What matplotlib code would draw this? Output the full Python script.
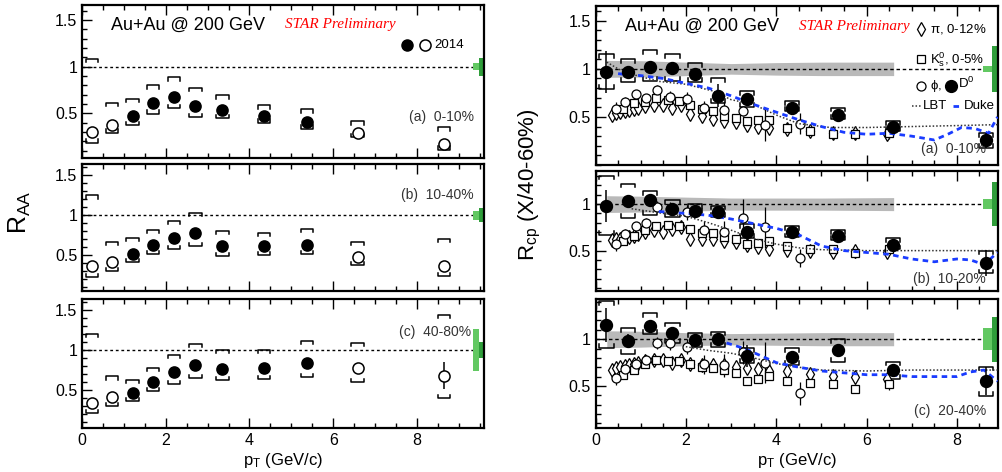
import matplotlib
matplotlib.use("Agg")
import matplotlib.pyplot as plt
from matplotlib.ticker import MultipleLocator, FixedLocator, FuncFormatter

plt.rcParams["font.family"] = ["Liberation Sans", "DejaVu Sans"]
plt.rcParams["mathtext.fontset"] = "custom"
plt.rcParams["mathtext.rm"] = "Liberation Sans"
plt.rcParams["mathtext.it"] = "Liberation Sans"

W, H = 1003, 472

# ---- D0 data ----
d0_pt = [0.24, 0.72, 1.21, 1.70, 2.20, 2.71, 3.35, 4.35, 5.37, 6.58, 8.64]
raa_open = [True, True, False, False, False, False, False, False, False, True, True]

raa_a = [0.30, 0.38, 0.47, 0.61, 0.68, 0.58, 0.54, 0.47, 0.41, 0.29, 0.17]
raa_a_hi = [1.086, 0.615, 0.658, 0.803, 0.889, 0.775, 0.696, 0.586, 0.543, 0.417, 0.357]
raa_a_lo = [0.186, 0.293, 0.371, 0.497, 0.554, 0.457, 0.446, 0.400, 0.336, 0.243, 0.107]
raa_a_err = [0.04, 0.02, 0.02, 0.02, 0.02, 0.02, 0.02, 0.02, 0.02, 0.02, 0.03]

raa_b = [0.37, 0.42, 0.52, 0.63, 0.71, 0.78, 0.61, 0.61, 0.63, 0.48, 0.36]
raa_b_hi = [1.25, 0.666, 0.716, 0.821, 0.925, 1.034, 0.80, 0.784, 0.825, 0.666, 0.70]
raa_b_lo = [0.229, 0.30, 0.416, 0.509, 0.571, 0.613, 0.488, 0.50, 0.509, 0.375, 0.238]
raa_b_err = [0.03, 0.02, 0.02, 0.02, 0.02, 0.02, 0.02, 0.02, 0.02, 0.03, 0.04]

raa_c = [0.34, 0.41, 0.46, 0.60, 0.72, 0.81, 0.76, 0.78, 0.84, 0.78, 0.68]
raa_c_hi = [1.20, 0.67, 0.625, 0.78, 0.94, 1.08, 1.0, 1.0, 1.12, 1.09, 1.44]
raa_c_lo = [0.21, 0.30, 0.36, 0.49, 0.575, 0.645, 0.625, 0.64, 0.66, 0.60, 0.40]
raa_c_err = [0.02, 0.02, 0.02, 0.02, 0.02, 0.02, 0.02, 0.02, 0.02, 0.03, 0.17]

rcp_a = [0.964, 0.964, 1.024, 1.01, 0.948, 0.72, 0.685, 0.597, 0.52, 0.395, 0.255]
rcp_a_hi = [1.157, 1.105, 1.192, 1.157, 1.063, 0.906, 0.766, 0.668, 0.597, 0.457, 0.335]
rcp_a_lo = [0.79, 0.867, 0.877, 0.877, 0.86, 0.65, 0.604, 0.562, 0.475, 0.353, 0.177]
rcp_a_err = [0.22, 0.06, 0.03, 0.03, 0.03, 0.12, 0.05, 0.04, 0.03, 0.06, 0.08]

rcp_b = [0.982, 1.028, 1.046, 0.949, 0.931, 0.91, 0.705, 0.698, 0.658, 0.558, 0.364]
rcp_b_hi = [1.305, 1.219, 1.136, 1.046, 1.003, 0.982, 0.784, 0.766, 0.723, 0.634, 0.50]
rcp_b_lo = [0.669, 0.849, 0.885, 0.866, 0.903, 0.86, 0.634, 0.644, 0.615, 0.515, 0.256]
rcp_b_err = [0.17, 0.07, 0.03, 0.05, 0.04, 0.05, 0.06, 0.04, 0.04, 0.05, 0.14]

rcp_c = [1.153, 0.982, 1.142, 1.064, 0.993, 1.003, 0.821, 0.807, 0.885, 0.671, 0.554]
rcp_c_hi = [1.41, 1.118, 1.278, 1.178, 1.064, 1.081, 0.904, 0.904, 1.0, 0.76, 0.707]
rcp_c_lo = [0.904, 0.84, 1.057, 0.957, 0.921, 0.921, 0.743, 0.725, 0.76, 0.572, 0.393]
rcp_c_err = [0.18, 0.07, 0.04, 0.04, 0.04, 0.04, 0.12, 0.04, 0.05, 0.06, 0.15]

# ---- light hadrons ----
pi_pt = [0.36, 0.45, 0.55, 0.65, 0.75, 0.85, 0.95, 1.1, 1.3, 1.5, 1.7, 1.9, 2.1,
         2.35, 2.6, 2.85, 3.1, 3.35, 3.6, 3.85, 4.25, 4.75, 5.25, 5.75, 6.45]
pi_a = [0.52, 0.54, 0.55, 0.56, 0.57, 0.58, 0.59, 0.61, 0.62, 0.62, 0.59, 0.62, 0.53,
        0.51, 0.48, 0.46, 0.45, 0.42, 0.40, 0.38, 0.37, 0.35, 0.33, 0.33, 0.32]
pi_b = [0.61, 0.62, 0.63, 0.64, 0.65, 0.66, 0.68, 0.70, 0.72, 0.70, 0.73, 0.75, 0.63,
        0.62, 0.62, 0.60, 0.59, 0.56, 0.54, 0.52, 0.51, 0.50, 0.48, 0.50, 0.48]
pi_c = [0.67, 0.69, 0.70, 0.71, 0.72, 0.73, 0.75, 0.77, 0.78, 0.78, 0.75, 0.78, 0.74,
        0.72, 0.72, 0.72, 0.70, 0.69, 0.68, 0.66, 0.66, 0.63, 0.61, 0.60, 0.57]
pi_err = [0.03, 0.02, 0.02, 0.02, 0.02, 0.02, 0.02, 0.02, 0.02, 0.02, 0.02, 0.02, 0.02,
          0.02, 0.02, 0.02, 0.02, 0.02, 0.02, 0.03, 0.03, 0.03, 0.04, 0.04, 0.05]

k_pt = [0.6, 0.85, 1.1, 1.35, 1.6, 1.85, 2.1, 2.35, 2.6, 2.85, 3.1, 3.35, 3.6, 3.85,
        4.25, 4.75, 5.25, 5.75, 6.5]
k_a = [0.58, 0.65, 0.66, 0.70, 0.68, 0.67, 0.62, 0.58, 0.56, 0.51, 0.49, 0.46, 0.47,
       0.47, 0.39, 0.35, 0.32, 0.32, 0.33]
k_b = [0.60, 0.66, 0.72, 0.76, 0.78, 0.76, 0.73, 0.69, 0.69, 0.65, 0.62, 0.57, 0.58,
       0.60, 0.55, 0.52, 0.52, 0.47, 0.52]
k_c = [0.62, 0.67, 0.74, 0.78, 0.77, 0.77, 0.74, 0.70, 0.69, 0.67, 0.64, 0.55, 0.57,
       0.61, 0.55, 0.53, 0.52, 0.47, 0.52]
k_err = [0.02, 0.02, 0.02, 0.02, 0.02, 0.02, 0.02, 0.02, 0.02, 0.02, 0.02, 0.02, 0.03,
         0.03, 0.03, 0.04, 0.04, 0.05, 0.06]

phi_pt = [0.46, 0.66, 0.9, 1.12, 1.36, 1.65, 2.02, 2.4, 2.85, 3.26, 3.76, 4.52]
phi_a = [0.58, 0.66, 0.74, 0.70, 0.78, 0.71, 0.69, 0.59, 0.57, 0.56, 0.415, 0.43]
phi_b = [0.57, 0.68, 0.76, 0.80, 0.97, 0.95, 0.91, 0.72, 0.70, 0.85, 0.75, 0.42]
phi_c = [0.58, 0.68, 0.74, 0.78, 0.96, 0.96, 0.92, 0.73, 0.72, 0.86, 0.75, 0.42]
phi_a_err = [0.08, 0.05, 0.04, 0.04, 0.05, 0.06, 0.07, 0.08, 0.09, 0.05, 0.17, 0.11]
phi_b_err = [0.07, 0.05, 0.05, 0.05, 0.06, 0.07, 0.08, 0.10, 0.12, 0.20, 0.22, 0.10]
phi_c_err = [0.07, 0.05, 0.05, 0.05, 0.06, 0.08, 0.08, 0.10, 0.12, 0.12, 0.22, 0.12]

# ---- model curves ----
lbt_a_x = [0.25, 0.5, 0.75, 1.0, 1.4, 2.0, 2.6, 3.0, 3.5, 4.0, 4.5, 5.2, 6.0, 7.0, 8.0, 8.9]
lbt_a_y = [1.07, 1.0, 0.95, 0.92, 0.87, 0.84, 0.77, 0.68, 0.63, 0.52, 0.43, 0.39, 0.39, 0.40, 0.41, 0.42]
duke_a_x = [0.5, 1.0, 1.5, 2.0, 2.5, 3.0, 3.5, 4.0, 4.5, 5.0, 5.5, 6.0, 6.5, 7.0, 7.5, 7.8, 8.1, 8.4, 8.7, 8.9]
duke_a_y = [0.95, 0.93, 0.90, 0.85, 0.80, 0.72, 0.63, 0.55, 0.47, 0.40, 0.34, 0.32, 0.33, 0.30, 0.26, 0.32, 0.39, 0.38, 0.33, 0.50]
lbt_b_x = [0.8, 1.5, 2.0, 2.5, 3.0, 3.5, 4.0, 4.5, 5.0, 6.0, 7.0, 8.0, 8.9]
lbt_b_y = [0.95, 0.90, 0.87, 0.80, 0.72, 0.63, 0.57, 0.53, 0.51, 0.50, 0.50, 0.50, 0.50]
duke_b_x = [1.4, 2.0, 2.5, 3.0, 3.4, 4.0, 4.5, 5.0, 5.5, 6.0, 6.5, 7.0, 7.5, 8.0, 8.3, 8.6, 8.9]
duke_b_y = [0.92, 0.90, 0.88, 0.84, 0.80, 0.74, 0.67, 0.55, 0.50, 0.48, 0.46, 0.41, 0.38, 0.41, 0.40, 0.35, 0.48]
lbt_c_x = [2.0, 2.5, 3.0, 3.5, 4.0, 4.5, 5.0, 6.0, 7.0, 8.0, 8.9]
lbt_c_y = [0.92, 0.88, 0.85, 0.80, 0.74, 0.70, 0.67, 0.66, 0.67, 0.67, 0.67]
duke_c_x = [2.9, 3.3, 4.0, 4.5, 5.0, 5.5, 6.0, 6.5, 7.0, 7.5, 8.0, 8.3, 8.6, 8.9]
duke_c_y = [0.96, 0.90, 0.75, 0.70, 0.66, 0.64, 0.62, 0.62, 0.60, 0.60, 0.60, 0.65, 0.67, 0.55]

# ---- gray band (D0 pp reference uncertainty) ----
band_x = [0.25, 1.0, 2.0, 3.0, 4.0, 5.0, 6.6]
band_a = [0.088, 0.085, 0.07, 0.055, 0.065, 0.07, 0.07]
band_b = [0.09, 0.085, 0.075, 0.065, 0.065, 0.065, 0.07]
band_c = [0.09, 0.085, 0.07, 0.06, 0.065, 0.07, 0.07]

# ---- normalisation boxes (light, dark half-widths) ----
norm_raa = [(0.04, 0.095), (0.06, 0.09), (0.26, 0.10)]
norm_rcp = [(0.03, 0.24), (0.055, 0.235), (0.116, 0.24)]

LIGHT_G = "#62c862"
DARK_G = "#2f9e3a"
BLUE = "#1a3cff"


def add_ax(x0, y0, x1, y1):
    return fig.add_axes([x0 / W, 1 - y1 / H, (x1 - x0) / W, (y1 - y0) / H])


def style(ax, xlim, ylim, xlabels):
    ax.set_xlim(*xlim)
    ax.set_ylim(*ylim)
    ax.xaxis.set_major_locator(MultipleLocator(2))
    ax.xaxis.set_minor_locator(MultipleLocator(0.5))
    ax.yaxis.set_major_locator(FixedLocator([0.5, 1.0, 1.5]))
    ax.yaxis.set_minor_locator(MultipleLocator(0.1))
    ax.yaxis.set_major_formatter(FuncFormatter(lambda v, p: f"{v:g}"))
    ax.xaxis.set_major_formatter(FuncFormatter(lambda v, p: f"{v:g}"))
    ax.tick_params(which="both", direction="in", top=True, right=False, labelsize=11.5)
    ax.tick_params(which="major", length=7, width=1)
    ax.tick_params(which="minor", length=3.5, width=1)
    if not xlabels:
        ax.tick_params(labelbottom=False)
    for s in ax.spines.values():
        s.set_linewidth(1.6)


def brackets(ax, x, lo, hi, w, leg):
    for xi, l, h in zip(x, lo, hi):
        ax.plot([xi - w, xi - w, xi + w, xi + w], [h - leg, h, h, h - leg], color="k", lw=1.1)
        ax.plot([xi - w, xi - w, xi + w, xi + w], [l + leg, l, l, l + leg], color="k", lw=1.1)


def d0_points(ax, x, y, err, open_flags, ms):
    for xi, yi, ei, op in zip(x, y, err, open_flags):
        ax.errorbar(xi, yi, yerr=ei, fmt="o", ms=ms, color="k", mfc="white" if op else "black",
                    mec="black", mew=1.1, elinewidth=1.1, capsize=0, zorder=6)


def norm_boxes(ax, xl, xd, wl, wd, light, dark):
    ax.bar(xl, 2 * light, bottom=1 - light, width=wl, color=LIGHT_G, align="edge", zorder=2, clip_on=False)
    ax.bar(xd, 2 * dark, bottom=1 - dark, width=wd, color=DARK_G, align="edge", zorder=2, clip_on=False)


fig = plt.figure(figsize=(W / 100, H / 100), dpi=100)

# ---------------- left column: R_AA ----------------
left_boxes = [(82, 5, 484, 158.3), (82, 164.3, 484, 291), (82, 299, 484, 428)]
left_ylims = [(0.02, 1.66), (0.05, 1.64), (0.025, 1.64)]
raa_sets = [(raa_a, raa_a_lo, raa_a_hi, raa_a_err, "(a)  0-10%", 0.27),
            (raa_b, raa_b_lo, raa_b_hi, raa_b_err, "(b)  10-40%", 0.76),
            (raa_c, raa_c_lo, raa_c_hi, raa_c_err, "(c)  40-80%", 0.745)]

left_axes = []
for i, (box, yl, st) in enumerate(zip(left_boxes, left_ylims, raa_sets)):
    ax = add_ax(*box)
    style(ax, (0, 9.6), yl, i == 2)
    y, lo, hi, err, lab, ty = st
    ax.plot([0, 9.33], [1, 1], ls=(0, (2, 2)), color="k", lw=1)
    brackets(ax, d0_pt, lo, hi, 0.15, 0.04)
    d0_points(ax, d0_pt, y, err, raa_open, 8)
    norm_boxes(ax, 9.33, 9.47, 0.14, 0.13, norm_raa[i][0], norm_raa[i][1])
    tx = 0.975 if i < 2 else 0.968
    ax.text(tx, ty, lab, transform=ax.transAxes, ha="right", va="center",
            fontsize=10, color="#333333")
    left_axes.append(ax)

ax = left_axes[0]
ax.text(0.073, 0.87, "Au+Au @ 200 GeV", transform=ax.transAxes, fontsize=13, va="center")
ax.text(0.505, 0.87, "STAR Preliminary", transform=ax.transAxes, fontsize=11, va="center",
        color="red", style="italic", family="Liberation Serif")
ax.plot([0.8085], [0.737], "o", ms=8, mfc="k", mec="k", transform=ax.transAxes, clip_on=False)
ax.plot([0.8535], [0.737], "o", ms=8, mfc="white", mec="k", mew=1.1, transform=ax.transAxes, clip_on=False)
ax.text(0.877, 0.737, "2014", transform=ax.transAxes, fontsize=9.5, va="center")

fig.text(20 / W, 1 - 212 / H, r"R$_{\mathregular{AA}}$", rotation=90, fontsize=18,
         ha="center", va="center")
fig.text(283 / W, 1 - 460 / H, r"p$_{\mathregular{T}}$ (GeV/c)", fontsize=12, ha="center", va="center")

# ---------------- right column: R_cp ----------------
right_boxes = [(595.5, 6, 998, 165), (595.5, 170.7, 998, 291), (595.5, 299, 998, 428)]
right_ylims = [(0.0, 1.654), (0.066, 1.359), (0.05, 1.43)]
rcp_sets = [(rcp_a, rcp_a_lo, rcp_a_hi, rcp_a_err, pi_a, k_a, phi_a, phi_a_err, band_a,
             lbt_a_x, lbt_a_y, duke_a_x, duke_a_y, "(a)  0-10%"),
            (rcp_b, rcp_b_lo, rcp_b_hi, rcp_b_err, pi_b, k_b, phi_b, phi_b_err, band_b,
             lbt_b_x, lbt_b_y, duke_b_x, duke_b_y, "(b)  10-20%"),
            (rcp_c, rcp_c_lo, rcp_c_hi, rcp_c_err, pi_c, k_c, phi_c, phi_c_err, band_c,
             lbt_c_x, lbt_c_y, duke_c_x, duke_c_y, "(c)  20-40%")]

right_axes = []
for i, (box, yl, st) in enumerate(zip(right_boxes, right_ylims, rcp_sets)):
    ax = add_ax(*box)
    style(ax, (0, 8.91), yl, i == 2)
    (y, lo, hi, err, pi_v, k_v, phi_v, phi_e, band, lx, ly, dx, dy, lab) = st
    ax.fill_between(band_x, [1 - b for b in band], [1 + b for b in band], color="#b9b9b9",
                    lw=0, zorder=1)
    ax.plot([0, 8.57], [1, 1], ls=(0, (2.5, 2)), color="k", lw=1, zorder=2)
    ax.errorbar(pi_pt, pi_v, yerr=pi_err, fmt="d", ms=7, mfc="white", mec="k", mew=0.9,
                color="k", elinewidth=0.9, capsize=0, zorder=3)
    ax.errorbar(k_pt, k_v, yerr=k_err, fmt="s", ms=6, mfc="white", mec="k", mew=0.9,
                color="k", elinewidth=0.9, capsize=0, zorder=3)
    ax.errorbar(phi_pt, phi_v, yerr=phi_e, fmt="o", ms=6.5, mfc="white", mec="k", mew=0.9,
                color="k", elinewidth=0.9, capsize=0, zorder=3)
    ax.plot(lx, ly, ls=(0, (1, 1.3)), color="#333333", lw=1.1, zorder=4)
    ax.plot(dx, dy, ls=(0, (2, 1.6)), color=BLUE, lw=2, zorder=4)
    brackets(ax, d0_pt, lo, hi, 0.16, 0.04)
    d0_points(ax, d0_pt, y, err, [False] * len(d0_pt), 8.5)
    norm_boxes(ax, 8.57, 8.77, 0.2, 0.14, norm_rcp[i][0], norm_rcp[i][1])
    ty = 0.1 if i < 2 else 0.13
    ax.text(0.97, ty, lab, transform=ax.transAxes, ha="right", va="center",
            fontsize=10, color="#333333")
    right_axes.append(ax)

ax = right_axes[0]
ax.text(0.073, 0.87, "Au+Au @ 200 GeV", transform=ax.transAxes, fontsize=13, va="center")
ax.text(0.505, 0.87, "STAR Preliminary", transform=ax.transAxes, fontsize=11, va="center",
        color="red", style="italic", family="Liberation Serif")
ax.plot([0.808], [0.853], "d", ms=7, mfc="white", mec="k", mew=0.9, transform=ax.transAxes)
ax.text(0.831, 0.853, r"$\pi$, 0-12%", transform=ax.transAxes, fontsize=9.5, va="center")
ax.plot([0.808], [0.665], "s", ms=6, mfc="white", mec="k", mew=0.9, transform=ax.transAxes)
ax.text(0.831, 0.665, r"K$_{\mathregular{s}}^{\mathregular{0}}$, 0-5%", transform=ax.transAxes,
        fontsize=9.5, va="center")
ax.plot([0.808], [0.497], "o", ms=6.5, mfc="white", mec="k", mew=0.9, transform=ax.transAxes)
ax.text(0.831, 0.497, r"$\phi$,", transform=ax.transAxes, fontsize=9.5, va="center")
ax.plot([0.884], [0.497], "o", ms=8.5, mfc="k", mec="k", transform=ax.transAxes)
ax.text(0.9, 0.515, r"D$^{\mathregular{0}}$", transform=ax.transAxes, fontsize=9.5, va="center")
ax.plot([0.786, 0.808], [0.371, 0.371], ls=(0, (1, 1.3)), color="#333333", lw=1.1,
        transform=ax.transAxes)
ax.text(0.813, 0.371, "LBT", transform=ax.transAxes, fontsize=9.5, va="center")
ax.plot([0.887, 0.91], [0.371, 0.371], ls=(0, (2, 1.6)), color=BLUE, lw=2, transform=ax.transAxes)
ax.text(0.914, 0.371, "Duke", transform=ax.transAxes, fontsize=9.5, va="center")

fig.text(530 / W, 1 - 185 / H, r"R$_{\mathregular{cp}}$ (X/40-60%)", rotation=90, fontsize=16,
         ha="center", va="center")
fig.text(797 / W, 1 - 460 / H, r"p$_{\mathregular{T}}$ (GeV/c)", fontsize=12, ha="center", va="center")

fig.savefig("out.png", dpi=100)
